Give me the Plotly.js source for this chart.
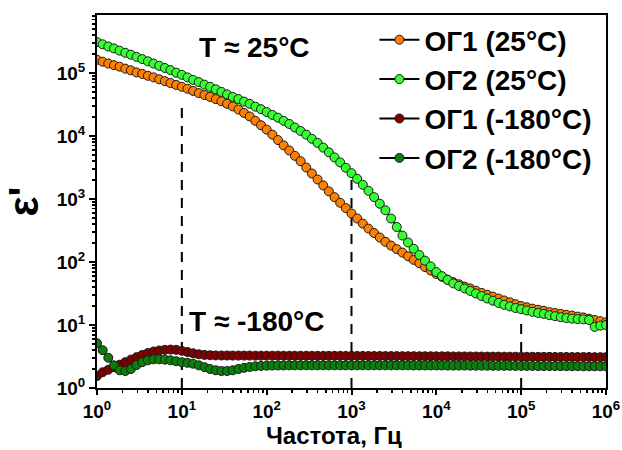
<!DOCTYPE html>
<html><head><meta charset="utf-8">
<script src="https://cdn.plot.ly/plotly-3.0.1.min.js"></script>
<style>html,body{margin:0;padding:0;background:#fff}</style>
</head><body><div id="chart" style="width:622px;height:450px"></div>
<script>
const freq = [
1,1.166,1.359,1.585,1.848,2.154,2.512,2.929,3.415,3.981,4.642,5.412,6.31,7.356,8.577,
10,11.66,13.59,15.85,18.48,21.54,25.12,29.29,34.15,39.81,46.42,54.12,63.1,73.56,85.77,
100,116.6,135.9,158.5,184.8,215.4,251.2,292.9,341.5,398.1,464.2,541.2,631,735.6,857.7,
1000,1166,1359,1585,1848,2154,2512,2929,3415,3981,4642,5412,6310,7356,8577,
10000,11660,13590,15850,18480,21540,25120,29290,34150,39810,46420,54120,63100,73560,85770,
100000,116600,135900,158500,184800,215400,251200,292900,341500,398100,464200,541200,631000,735600,857700,
1000000];

const og1_25 = [
162000,151000,141000,133000,126000,117000,110000,102000,96600,90200,85100,79400,74100,69200,64600,
60300,56200,51900,47900,44700,41700,38500,35500,32400,29500,26300,23200,20400,17400,14800,
12600,10500,8610,7080,5890,4840,3980,3160,2540,2040,1640,1320,1070,871,716,
589,490,407,339,288,245,209,182,160,141,123,108,95.5,83.2,73.3,
64.6,58.2,52.5,47.9,44.2,40.7,38.0,35.1,32.4,30.2,28.2,26.3,24.5,22.9,21.4,
20.0,19.1,18.2,17.4,16.8,16.0,15.5,15.0,14.5,14.1,13.6,13.2,12.6,12.0,11.5,
11.0];

const og2_25 = [
309000,285000,263000,245000,226000,209000,195000,180000,166000,153000,141000,130000,120000,111000,101000,
93300,85100,77600,71600,65300,60300,55000,50100,45700,41700,38500,35100,32400,29200,26600,
24000,21600,19500,17400,15500,13600,12000,10500,9020,7760,6530,5500,4570,3800,3130,
2570,2090,1680,1350,1070,841,661,490,359,263,204,162,129,105,85.1,
69.2,59.6,51.9,45.7,41.7,38.0,34.7,31.6,28.8,26.3,24.3,22.4,20.9,19.7,18.6,
17.8,17.0,16.2,15.5,15.0,14.3,13.8,13.3,12.9,12.6,12.4,12.3,12.0,9.33,9.77,
10.0];

const og1_m180 = [
1.55,1.78,1.95,2.14,2.34,2.57,2.82,3.09,3.35,3.59,3.80,3.94,4.03,4.07,4.03,
3.89,3.72,3.55,3.43,3.35,3.31,
3.29,3.28,3.28,3.27,3.27,3.27,3.27,3.26,3.26,3.26,3.26,3.26,3.25,3.25,3.25,3.25,3.25,3.24,3.24,3.24,3.24,3.24,3.24,3.23,3.23,
3.23,3.23,3.22,3.22,3.22,3.21,3.21,3.21,3.20,3.20,3.20,3.19,3.19,3.19,3.18,3.18,3.18,3.17,3.17,3.17,3.16,3.16,3.16,
3.15,3.15,3.15,3.14,3.14,3.14,3.13,3.13,3.13,3.12,3.12,3.12,3.11,3.11,3.11,3.10,3.10,3.10,3.10,3.09,3.09,3.09];

const og2_m180 = [
5.13,3.98,3.02,2.29,1.91,1.86,2.00,2.32,2.57,2.75,2.85,2.85,2.82,2.75,2.66,
2.57,2.51,2.43,2.29,2.14,2.00,1.91,1.86,1.86,1.91,2.00,2.09,2.16,2.21,2.24,2.26,
2.27,2.28,2.28,2.29,2.29,2.29,2.29,2.29,2.29,2.29,2.29,2.29,2.29,2.29,2.29,2.29,2.29,2.29,2.29,2.29,2.29,2.29,2.29,2.29,2.29,2.28,2.28,2.28,2.28,2.28,
2.28,2.27,2.27,2.27,2.27,2.26,2.26,2.26,2.26,2.25,2.25,2.25,2.25,2.24,2.24,2.24,2.24,2.23,2.23,2.23,2.23,2.22,2.22,2.22,2.22,2.21,2.21,2.21,2.21,2.21];

const seriesNames = ['ОГ1 (25°C)', 'ОГ2 (25°C)', 'ОГ1 (-180°C)', 'ОГ2 (-180°C)'];
const seriesColors = ['#FF8000', '#33FF33', '#800000', '#0A7F0A'];
const xTickVals = [1, 10, 100, 1000, 10000, 100000, 1000000];
const xTickText = ['10<sup>0</sup>','10<sup>1</sup>','10<sup>2</sup>','10<sup>3</sup>','10<sup>4</sup>','10<sup>5</sup>','10<sup>6</sup>'];
const yTickVals = [1, 10, 100, 1000, 10000, 100000];
const yTickText = ['10<sup>0</sup>','10<sup>1</sup>','10<sup>2</sup>','10<sup>3</sup>','10<sup>4</sup>','10<sup>5</sup>'];
const xTitle = 'Частота, Гц';
const yTitle = "ε'";
const guideFreqs = [10, 1000, 100000];
const guideTops = [35000, 2400, 10.7];
const guideBottom = 1;

const FONT = 'Liberation Sans, Arial, Helvetica, sans-serif';
const bold = s => '<b>' + s + '</b>';

const gx = [], gy = [];
guideFreqs.forEach((f, i) => { gx.push(f, f, null); gy.push(guideBottom, guideTops[i], null); });

const guideTrace = {
  x: gx, y: gy, type: 'scatter', mode: 'lines', showlegend: false, hoverinfo: 'skip',
  line: {color: '#000', width: 2, dash: '10px,8px'}
};

const ys = [og1_25, og2_25, og1_m180, og2_m180];
const traces = [guideTrace].concat(ys.map((y, i) => ({
  x: freq, y: y, type: 'scatter', mode: 'lines+markers', name: bold(seriesNames[i]),
  line: {color: '#000', width: 2},
  marker: {symbol: 'circle', size: 9, color: seriesColors[i], line: {color: '#1a1a1a', width: 1}}
})));

const axisCommon = {
  type: 'log', showgrid: false, zeroline: false,
  showline: true, linecolor: '#000', linewidth: 2, mirror: true,
  ticks: 'outside', ticklen: 6, tickwidth: 2, tickcolor: '#000',
  tickfont: {family: FONT, size: 19, color: '#000'},
  minor: {ticks: 'outside', ticklen: 3, tickwidth: 1.5, tickcolor: '#000', dtick: 'D1', showgrid: false}
};

const layout = {
  width: 622, height: 450,
  margin: {l: 97, r: 16, t: 15, b: 62},
  paper_bgcolor: '#fff', plot_bgcolor: '#fff',
  font: {family: FONT, color: '#000'},
  showlegend: true,
  legend: {
    x: 0.545, y: 1.0, xanchor: 'left', yanchor: 'top', bgcolor: 'rgba(0,0,0,0)',
    font: {family: FONT, size: 28, color: '#000'},
    traceorder: 'normal', itemwidth: 40
  },
  xaxis: Object.assign({}, axisCommon, {
    range: [0, 6], tickvals: xTickVals, ticktext: xTickText.map(bold), ticklen: 5
  }),
  yaxis: Object.assign({}, axisCommon, {
    range: [0, 5.92], tickvals: yTickVals, ticktext: yTickText.map(bold),
    title: {text: bold(yTitle), font: {family: FONT, size: 42, color: '#000'}, standoff: 10}
  }),
  annotations: [
    {text: bold('T ≈ 25°C'), xref: 'paper', yref: 'paper', x: 0.31, y: 0.914,
     xanchor: 'center', yanchor: 'middle', showarrow: false,
     font: {family: FONT, size: 28, color: '#000'}},
    {text: bold('T ≈ -180°C'), xref: 'paper', yref: 'paper', x: 0.314, y: 0.177,
     xanchor: 'center', yanchor: 'middle', showarrow: false,
     font: {family: FONT, size: 28, color: '#000'}},
    {text: bold(xTitle), xref: 'paper', yref: 'paper', x: 0.466, y: -0.166,
     xanchor: 'center', yanchor: 'bottom', height: 26, valign: 'middle', showarrow: false,
     font: {family: FONT, size: 24, color: '#000'}}
  ]
};

Plotly.newPlot('chart', traces, layout, {displayModeBar: false, staticPlot: true});
</script>
</body></html>
